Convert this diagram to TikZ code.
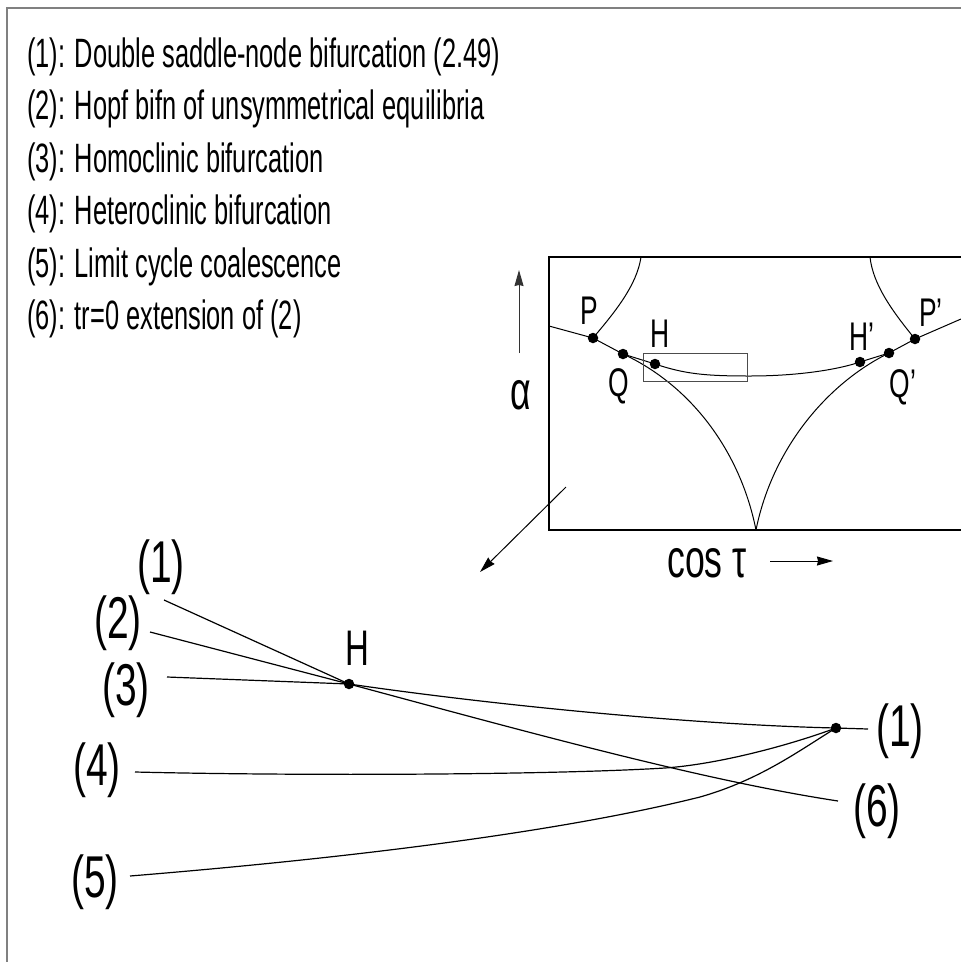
\documentclass[tikz,border=0pt]{standalone}
\usepackage{fontspec}
\setmainfont{Liberation Sans}[FakeStretch=0.66]
\newfontfamily\legfont{Liberation Sans}[FakeStretch=0.62]
\usetikzlibrary{arrows.meta}
\begin{document}
\begin{tikzpicture}[x=1pt,y=-1pt,
  thinline/.style={line width=1},
  curveline/.style={line width=1.2},
  dot/.style={circle,fill,inner sep=0,minimum size=10.5},
  lbl/.style={font=\fontsize{59}{64}\selectfont, inner sep=0},
  ilbl/.style={font=\fontsize{40}{44}\selectfont, inner sep=0},
  glbl/.style={font=\fontsize{54}{58}\selectfont, inner sep=0},
  leg/.style={font=\legfont\fontsize{41}{46}\selectfont, anchor=base west, inner sep=0},
  arr/.style={-{Stealth[length=16,width=9,inset=1]}, line width=1}]
\useasboundingbox (0,0) rectangle (961,962);
% frame
\draw[line width=2, color=black!50] (7,962) -- (7,7.5) -- (961,7.5);
% legend
\node[leg] (t1) at (27,67) {(1): Double saddle-node bifurcation (2.49)};
\node[leg] (t2) at (27,119) {(2): Hopf bifn of unsymmetrical equilibria};
\node[leg] (t3) at (27,172) {(3): Homoclinic bifurcation};
\node[leg] (t4) at (27,224) {(4): Heteroclinic bifurcation};
\node[leg] (t5) at (27,277) {(5): Limit cycle coalescence};
\node[leg] (t6) at (27,329) {(6): tr=0 extension of (2)};
% inset box
\draw[line width=1.2] (961,257) -- (549,257) -- (549,530) -- (961,530);
\coordinate (L0) at (549,326);
\coordinate (R0) at (961,319);
\coordinate (TL) at (641,257);
\coordinate (TR) at (870,257);
\coordinate (cusp) at (756,530);
\node[dot] (P) at (593,338) {};
\node[dot] (Q) at (623,354) {};
\node[dot] (H) at (655,364) {};
\node[dot] (Hp) at (860,362) {};
\node[dot] (Qp) at (889,353) {};
\node[dot] (Pp) at (915,339) {};
\draw[thinline] (L0) -- (P.center) -- (Q.center) -- (H.center);
\draw[thinline] (TL) .. controls (637,285) and (615,312) .. (P.center);
\draw[thinline] (TR) .. controls (873,285) and (893,312) .. (Pp.center);
\draw[thinline] (Q.center) .. controls (690,385) and (740,450) .. (cusp);
\draw[thinline] (Qp.center) .. controls (826,384) and (772,450) .. (cusp);
\draw[thinline] (H.center) .. controls (685,374) and (705,376) .. (750,376)
   .. controls (800,376) and (840,369) .. (Hp.center);
\draw[thinline] (Hp.center) -- (Qp.center) -- (Pp.center) -- (R0);
\draw[line width=1, color=black!70] (643,353) rectangle (747,381);
\node[ilbl] (lP) at (589,311) {P};
\node[ilbl] (lQ) at (619,386) {Q};
\node[ilbl] (lH) at (660,334) {H};
\node[ilbl] (lHp) at (862,337) {H’};
\node[ilbl] (lQp) at (903,387) {Q’};
\node[ilbl] (lPp) at (931,313) {P’};
% axes arrows and labels
\coordinate (a0) at (519,353);
\coordinate (a1) at (519,270);
\draw[arr, color=black!80] (a0) -- (a1);
\node[glbl] (alpha) at (521,395) {α};
\coordinate (d0) at (566,487);
\coordinate (d1) at (480,572);
\draw[arr] (d0) -- (d1);
\node[glbl, anchor=base] (cos) at (707,577) {cos τ};
\coordinate (c0) at (770,561);
\coordinate (c1) at (833,561);
\draw[arr] (c0) -- (c1);
% lower diagram
\node[dot] (H2) at (349,684) {};
\node[dot] (E) at (836,728) {};
\node[lbl] (n1) at (161,567) {(1)};
\node[lbl] (n2) at (118,623) {(2)};
\node[lbl] (n3) at (126,690) {(3)};
\node[lbl] (n4) at (97,770) {(4)};
\node[lbl] (n5) at (95,882) {(5)};
\node[lbl] (m1) at (900,731) {(1)};
\node[lbl] (m6) at (877,811) {(6)};
\node[font=\fontsize{50}{54}\selectfont, inner sep=0] (hl) at (357,648) {H};
\coordinate (s1) at (164,600);
\coordinate (s2) at (150,632);
\coordinate (s3) at (167,677);
\coordinate (s4) at (135,772);
\coordinate (s5) at (130,876);
\coordinate (e1) at (868,729);
\coordinate (e6) at (838,801);
\draw[curveline] (s1) -- (H2.center) .. controls (500,706) and (700,725) .. (E.center) -- (e1);
\draw[curveline] (s2) -- (H2.center) .. controls (520,730) and (700,780) .. (e6);
\draw[curveline] (s3) -- (H2.center);
\draw[curveline] (s4) .. controls (300,776) and (550,775) .. (665,768)
   .. controls (720,764) and (790,745) .. (E.center);
\draw[curveline] (s5) .. controls (350,858) and (560,832) .. (700,797)
   .. controls (760,780) and (800,750) .. (E.center);
\end{tikzpicture}
\end{document}
